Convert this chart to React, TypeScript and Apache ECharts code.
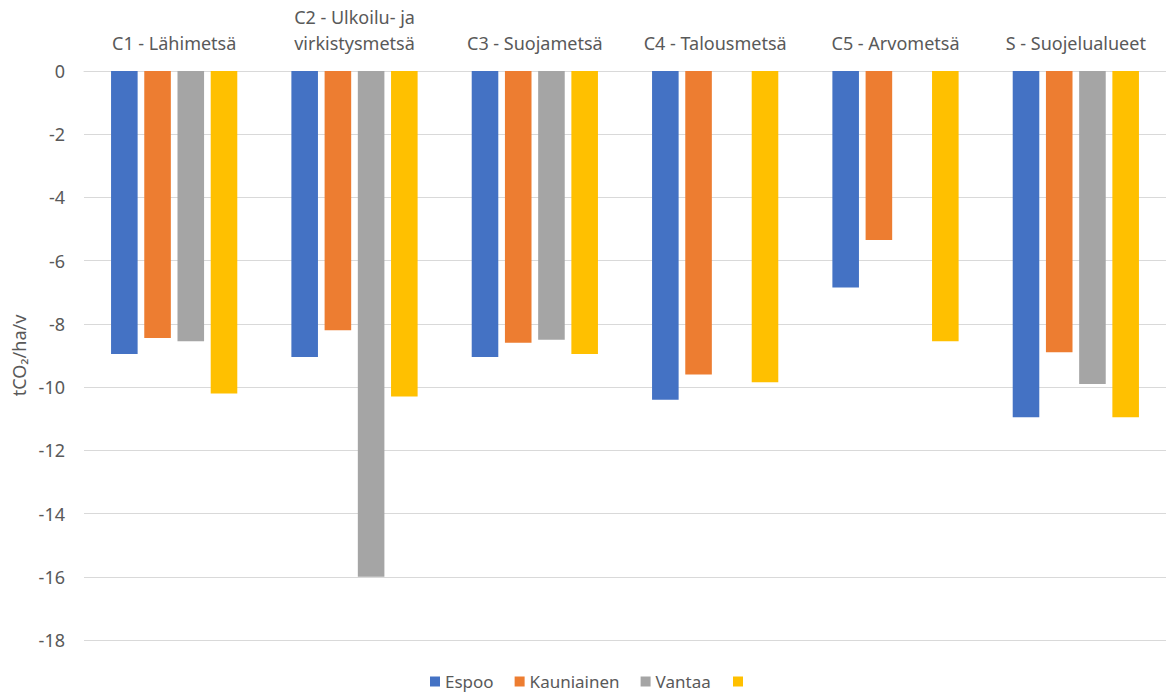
import React, { useEffect, useRef } from "react";
import * as echarts from "echarts";

const categories = [
  "C1 - Lähimetsä",
  "C2 - Ulkoilu- ja\nvirkistysmetsä",
  "C3 - Suojametsä",
  "C4 - Talousmetsä",
  "C5 - Arvometsä",
  "S - Suojelualueet",
];
const espoo = [-8.95, -9.05, -9.05, -10.4, -6.85, -10.95];
const kauniainen = [-8.45, -8.2, -8.6, -9.6, -5.35, -8.9];
const vantaa = [-8.55, -16.0, -8.5, null, null, -9.9];
const fourth = [-10.2, -10.3, -8.95, -9.85, -8.55, -10.95];
const seriesNames = ["Espoo", "Kauniainen", "Vantaa", " "];
const colors = ["#4472C4", "#ED7D31", "#A5A5A5", "#FFC000"];

const FONT = "'Noto Sans', 'DejaVu Sans', sans-serif";
const TEXT = "#595959";

export default function App() {
  const ref = useRef<HTMLDivElement>(null);
  useEffect(() => {
    if (!ref.current) return;
    const chart = echarts.init(ref.current, undefined, { renderer: "svg" });
    const datasets = [espoo, kauniainen, vantaa, fourth];
    chart.setOption({
      animation: false,
      backgroundColor: "#ffffff",
      textStyle: { fontFamily: FONT },
      grid: { left: 84, right: -4, top: 71, bottom: 54, containLabel: false },
      legend: [
        {
          data: seriesNames.slice(0, 3),
          left: 430,
          top: 673,
          padding: 0,
          icon: "rect",
          itemWidth: 10,
          itemHeight: 10,
          itemGap: 21,
          textStyle: { fontSize: 17, lineHeight: 17, color: TEXT, fontFamily: FONT },
        },
        {
          data: [seriesNames[3]],
          left: 733,
          top: 673,
          padding: 0,
          icon: "rect",
          itemWidth: 10,
          itemHeight: 10,
          textStyle: { fontSize: 17, lineHeight: 17, color: TEXT, fontFamily: FONT },
        },
      ],
      xAxis: {
        type: "category",
        position: "top",
        data: categories,
        axisLine: { show: true, lineStyle: { color: "#d9d9d9", width: 1 } },
        axisTick: { show: false },
        axisLabel: {
          interval: 0,
          margin: 15,
          fontSize: 18,
          lineHeight: 26,
          color: TEXT,
          fontFamily: FONT,
        },
      },
      yAxis: {
        type: "value",
        min: -18,
        max: 0,
        interval: 2,
        name: "tCO₂/ha/v",
        nameLocation: "middle",
        nameRotate: 90,
        nameGap: 52,
        nameTextStyle: { fontSize: 18, color: TEXT, fontFamily: FONT },
        axisLine: { show: false },
        axisTick: { show: false },
        axisLabel: { margin: 19, fontSize: 18, color: TEXT, fontFamily: FONT },
        splitLine: { lineStyle: { color: "#d9d9d9", width: 1 } },
      },
      series: datasets.map((d, i) => ({
        name: seriesNames[i],
        type: "bar",
        data: d,
        itemStyle: { color: colors[i] },
        barCategoryGap: "30%",
        barGap: "25%",
      })),
    });
    return () => chart.dispose();
  }, []);
  return (
    <div
      ref={ref}
      style={{ position: "fixed", left: 0, top: 0, width: 1166, height: 694, overflow: "hidden" }}
    />
  );
}
